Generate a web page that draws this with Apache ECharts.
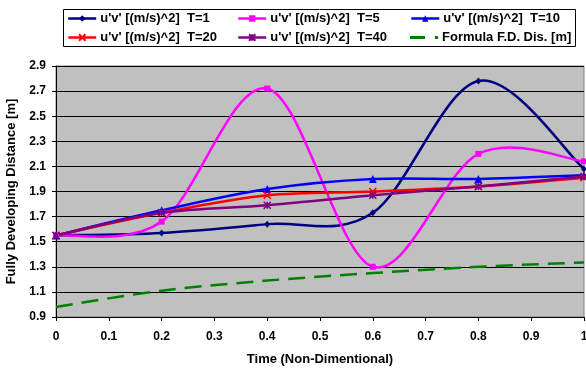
<!DOCTYPE html>
<html>
<head>
<meta charset="utf-8">
<script src="https://cdn.jsdelivr.net/npm/echarts@6/dist/echarts.min.js"></script>
<style>html,body{margin:0;padding:0;background:#fff}#c{width:586px;height:369px}</style>
</head>
<body>
<div id="c"></div>
<script>
const xValues = [0, 0.2, 0.4, 0.6, 0.8, 1.0];
const seriesNames = [
  "u'v' [(m/s)^2]  T=1",
  "u'v' [(m/s)^2]  T=5",
  "u'v' [(m/s)^2]  T=10",
  "u'v' [(m/s)^2]  T=20",
  "u'v' [(m/s)^2]  T=40",
  "Formula F.D. Dis. [m]"
];
const t1 = [1.55, 1.57, 1.64, 1.73, 2.78, 2.08];
const t5 = [1.55, 1.66, 2.72, 1.30, 2.20, 2.14];
const t10 = [1.55, 1.75, 1.92, 2.00, 2.00, 2.03];
const t20 = [1.55, 1.73, 1.87, 1.90, 1.94, 2.01];
const t40 = [1.55, 1.73, 1.79, 1.87, 1.94, 2.02];
const formula = [0.98, 1.11, 1.19, 1.25, 1.30, 1.335];
const xTicks = ['0','0.1','0.2','0.3','0.4','0.5','0.6','0.7','0.8','0.9','1'];
const yTicks = ['0.9','1.1','1.3','1.5','1.7','1.9','2.1','2.3','2.5','2.7','2.9'];

const FONT = "'Liberation Sans', Arial, sans-serif";
const pairs = v => xValues.map((x, i) => [x, v[i]]);
const colors = ['#000080', '#FF00FF', '#0000FF', '#FF0000', '#800080', '#008000'];
const symbols = [
  'diamond', 'rect', 'triangle',
  'path://M0,0L10,10M10,0L0,10',
  'path://M5,0L5,10M0,0L10,10M10,0L0,10',
  'none'
];
const symSizes = [[6,7], 6, 8, 7, 7, 0];
const allData = [t1, t5, t10, t20, t40, formula];
const LW = 2.5;
const DASH = [17, 9];

// Excel-style smoothed curve (Catmull-Rom Bezier) through the data points, via the axes' scales
function smoothCurve(values, color, dash) {
  return {
    type: 'custom',
    coordinateSystem: 'cartesian2d',
    data: pairs(values),
    encode: { x: 0, y: 1 },
    clip: false,
    silent: true,
    animation: false,
    renderItem: function (params, api) {
      if (params.dataIndex !== 0) return null;
      const p = values.map((v, i) => api.coord([xValues[i], v]));
      const n = p.length;
      let d = 'M' + p[0][0] + ',' + p[0][1];
      for (let i = 0; i < n - 1; i++) {
        const p0 = p[Math.max(i - 1, 0)], p1 = p[i], p2 = p[i + 1], p3 = p[Math.min(i + 2, n - 1)];
        const c1x = p1[0] + (p2[0] - p0[0]) / 6, c1y = p1[1] + (p2[1] - p0[1]) / 6;
        const c2x = p2[0] - (p3[0] - p1[0]) / 6, c2y = p2[1] - (p3[1] - p1[1]) / 6;
        d += 'C' + c1x + ',' + c1y + ',' + c2x + ',' + c2y + ',' + p2[0] + ',' + p2[1];
      }
      return {
        type: 'path',
        shape: { pathData: d },
        style: { fill: null, stroke: color, lineWidth: LW, lineDash: dash || null, lineCap: 'butt', lineJoin: 'round' }
      };
    }
  };
}

const series = [];
allData.forEach((d, i) => {
  series.push(smoothCurve(d, colors[i], i === 5 ? DASH : null));
  series.push({
    name: seriesNames[i],
    type: 'line',
    data: pairs(d),
    symbol: symbols[i],
    symbolSize: symSizes[i],
    showAllSymbol: true,
    lineStyle: { color: colors[i], width: LW, opacity: 0, type: i === 5 ? DASH : 'solid' },
    itemStyle: { color: colors[i], borderColor: colors[i], borderWidth: (i === 3 || i === 4) ? 1.5 : 0 },
    emphasis: { disabled: true },
    animation: false
  });
});

const legPos = [
  [67, 12], [237, 12], [410, 12],
  [67, 31], [237, 31], [410, 31]
];
const legends = seriesNames.map((n, i) => ({
  data: [i === 5
    ? { name: n, icon: 'path://M0,0H15V3H0Z M25,0H28V3H25Z', itemStyle: { color: colors[i], opacity: 1 } }
    : { name: n, lineStyle: { color: colors[i], width: LW, opacity: 1 } }],
  left: legPos[i][0], top: legPos[i][1],
  padding: 0, itemGap: 0,
  itemWidth: 28, itemHeight: i === 5 ? 3 : 8,
  selectedMode: false,
  textStyle: { fontFamily: FONT, fontSize: 13, fontWeight: 'bold', color: '#000', padding: [0, 0, 0, -1] },
  z: 10
}));

const chart = echarts.init(document.getElementById('c'), null, { renderer: 'canvas' });
chart.setOption({
  animation: false,
  backgroundColor: '#fff',
  graphic: [{
    type: 'rect', z: 1,
    shape: { x: 63.5, y: 9.5, width: 512, height: 37 },
    style: { fill: '#fff', stroke: '#000', lineWidth: 1 }
  }],
  legend: legends,
  grid: {
    left: 56, right: 2, top: 66, bottom: 52,
    containLabel: false, outerBoundsMode: 'none',
    show: true, backgroundColor: '#C0C0C0', borderColor: '#808080', borderWidth: 1
  },
  xAxis: {
    type: 'value', min: 0, max: 1, interval: 0.1,
    name: 'Time (Non-Dimentional)', nameLocation: 'middle', nameGap: 36,
    nameTextStyle: { fontFamily: FONT, fontSize: 13, fontWeight: 'bold', color: '#000' },
    axisLine: { show: true, lineStyle: { color: '#000', width: 1 } },
    axisTick: { show: true, length: 4, lineStyle: { color: '#000' } },
    axisLabel: {
      margin: 14, fontFamily: FONT, fontSize: 12, fontWeight: 'bold', color: '#000',
      formatter: (v) => xTicks[Math.round(v * 10)]
    },
    splitLine: { show: false }
  },
  yAxis: {
    type: 'value', min: 0.9, max: 2.9, interval: 0.2,
    name: 'Fully Developing Distance [m]', nameLocation: 'middle', nameGap: 36, nameRotate: 90,
    nameTextStyle: { fontFamily: FONT, fontSize: 13, fontWeight: 'bold', color: '#000' },
    axisLine: { show: true, lineStyle: { color: '#000', width: 1 } },
    axisTick: { show: true, length: 4, lineStyle: { color: '#000' } },
    axisLabel: {
      margin: 10, fontFamily: FONT, fontSize: 12, fontWeight: 'bold', color: '#000',
      formatter: (v) => yTicks[Math.round((v - 0.9) / 0.2)]
    },
    splitLine: { show: true, lineStyle: { color: '#000', width: 1 } }
  },
  series: series
});
</script>
</body>
</html>
